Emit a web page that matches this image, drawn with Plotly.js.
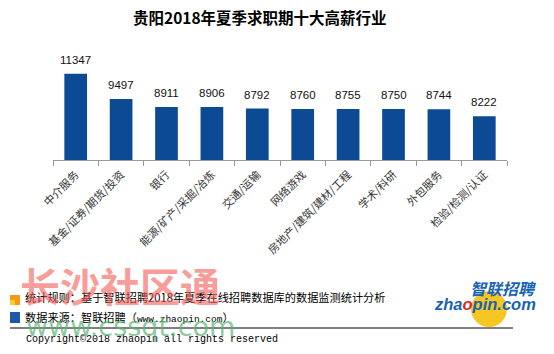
<!DOCTYPE html>
<html>
<head>
<meta charset="utf-8">
<script src="https://cdn.plot.ly/plotly-3.0.1.min.js"></script>
<style>html,body{margin:0;padding:0;background:#fff;}#chart{width:554px;height:354px;}</style>
</head>
<body>
<div id="chart"></div>
<script>
var categories = ["中介服务", "基金/证券/期货/投资", "银行", "能源/矿产/采掘/冶炼", "交通/运输", "网络游戏", "房地产/建筑/建材/工程", "学术/科研", "外包服务", "检验/检测/认证"];
var salaries = [11347, 9497, 8911, 8906, 8792, 8760, 8755, 8750, 8744, 8222];
var valueLabels = salaries.map(function (v) { return String(v); });

var L = 53, R = 507, T = 65, B = 160;
function px(x) { return (x - L) / (R - L); }
function py(y) { return (B - y) / (B - T); }

var annotations = categories.map(function (c, i) {
  return {x: c, y: salaries[i], xref: 'x', yref: 'y', text: valueLabels[i], showarrow: false,
    yshift: 14, font: {family: 'Liberation Sans', size: 11.5, color: '#111'}};
});

var cjk = '"Noto Sans CJK SC", sans-serif';
annotations.push(
  {xref: 'paper', yref: 'paper', x: px(23), y: py(297), xanchor: 'left', yanchor: 'middle', showarrow: false,
    text: '统计规则：基于智联招聘2018年夏季在线招聘数据库的数据监测统计分析', font: {family: cjk, size: 11.2, color: '#000'}},
  {xref: 'paper', yref: 'paper', x: px(23), y: py(317), xanchor: 'left', yanchor: 'middle', showarrow: false,
    text: '数据来源：智联招聘（<span style="font-family:Liberation Mono;font-size:9.5px">www.zhaopin.com</span>）', font: {family: cjk, size: 11.2, color: '#000'}},
  {xref: 'paper', yref: 'paper', x: px(24), y: py(340), xanchor: 'left', yanchor: 'middle', showarrow: false,
    text: 'Copyright©2018 zhaopin all rights reserved', font: {family: 'Liberation Mono', size: 10, color: '#000'}},
  {xref: 'paper', yref: 'paper', x: px(538), y: py(288), xanchor: 'right', yanchor: 'middle', showarrow: false,
    text: '<b><i>智联招聘</i></b>', font: {family: cjk, size: 16, color: '#1a63b3'}},
  {xref: 'paper', yref: 'paper', x: px(538), y: py(304), xanchor: 'right', yanchor: 'middle', showarrow: false,
    text: '<b><i>zha<span style="color:#d8262a">o</span>pin.com</i></b>', font: {family: 'Liberation Sans', size: 16.5, color: '#1a63b3'}},
  {xref: 'paper', yref: 'paper', x: px(18), y: py(285), xanchor: 'left', yanchor: 'middle', showarrow: false,
    text: '<b>长沙社区通</b>', font: {family: cjk, size: 40, color: 'rgba(242,90,85,0.6)'}},
  {xref: 'paper', yref: 'paper', x: px(24), y: py(327), xanchor: 'left', yanchor: 'middle', showarrow: false,
    text: 'www.cssqt.com', font: {family: 'DejaVu Sans', size: 27, color: 'rgba(90,180,115,0.7)'}}
);

var shapes = [
  {type: 'rect', xref: 'paper', yref: 'paper', x0: px(10), x1: px(20), y0: py(295), y1: py(305), fillcolor: '#f39a1e', line: {width: 0}},
  {type: 'rect', xref: 'paper', yref: 'paper', x0: px(10), x1: px(15), y0: py(300), y1: py(305), fillcolor: '#f7d21e', line: {width: 0}},
  {type: 'rect', xref: 'paper', yref: 'paper', x0: px(10), x1: px(20), y0: py(312), y1: py(323), fillcolor: '#1c59a8', line: {width: 0}},
  {type: 'line', xref: 'paper', yref: 'paper', x0: px(10), x1: px(513), y0: py(328), y1: py(328), line: {color: '#000', width: 1}},
  {type: 'circle', xref: 'paper', yref: 'paper', x0: px(471), x1: px(507), y0: py(291), y1: py(327), fillcolor: '#f6c623', line: {width: 0}, layer: 'below'}
];

var trace = {
  type: 'bar', x: categories, y: salaries, width: 0.5,
  marker: {color: '#0c4a94'}, hoverinfo: 'none'
};

var layout = {
  width: 554, height: 354,
  margin: {l: L, r: 554 - R, t: T, b: 354 - B, pad: 0},
  paper_bgcolor: '#fff', plot_bgcolor: '#fff',
  title: {text: '<b>贵阳2018年夏季求职期十大高薪行业</b>', font: {family: cjk, size: 15.5, color: '#000'},
    x: 0.469, xanchor: 'center', y: 1 - 19 / 354, yanchor: 'middle', xref: 'container', yref: 'container'},
  xaxis: {type: 'category', showline: true, linecolor: '#999', linewidth: 1, ticks: 'outside', ticklen: 5,
    tickcolor: '#999', tickson: 'boundaries', tickangle: -45, showgrid: false, zeroline: false,
    ticklabelstandoff: 3,
    tickfont: {family: cjk, size: 11, color: '#333'}, fixedrange: true},
  yaxis: {range: [5000, 12000], visible: false, showgrid: false, zeroline: false, fixedrange: true},
  showlegend: false,
  annotations: annotations,
  shapes: shapes
};

Plotly.newPlot('chart', [trace], layout, {displayModeBar: false, staticPlot: true});
</script>
</body>
</html>
